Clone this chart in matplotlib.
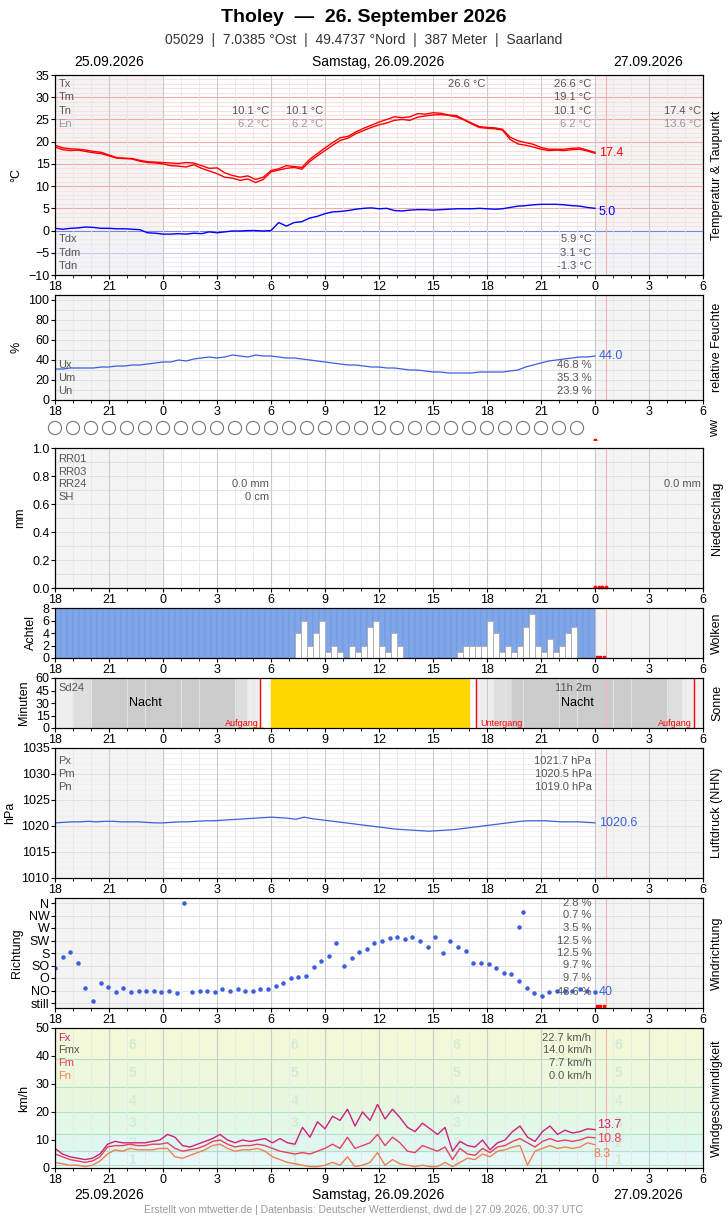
import matplotlib
matplotlib.use("Agg")
import matplotlib.pyplot as plt
import numpy as np

plt.rcParams['font.family'] = ['Liberation Sans', 'DejaVu Sans']

# ---------------- data ----------------
hours_labels = ['18', '21', '0', '3', '6', '9', '12', '15', '18', '21', '0', '3', '6']
# samples spread evenly from 18:00 (x=0) to 00:00 next day (x=30)
temp = [18.8, 18.2, 18.0, 18.1, 17.8, 17.5, 17.3, 16.8, 16.3, 16.2, 16.1, 15.6, 15.3, 15.2, 15.0, 14.6,
        14.5, 14.3, 14.8, 14.0, 13.4, 12.8, 12.0, 11.8, 11.3, 11.6, 10.8, 11.5, 13.2, 13.6, 14.0, 14.2,
        13.8, 15.5, 16.8, 18.0, 19.2, 20.3, 20.8, 21.8, 22.5, 23.2, 23.8, 24.2, 24.8, 25.0, 24.8, 25.5,
        25.8, 26.0, 26.1, 25.9, 25.6, 24.9, 24.0, 23.2, 23.0, 22.9, 22.6, 20.5, 19.5, 19.2, 18.8, 18.3,
        18.0, 18.1, 18.0, 18.2, 18.3, 17.9, 17.4]
temp_hi = [19.2, 18.6, 18.4, 18.3, 18.1, 17.8, 17.6, 17.0, 16.4, 16.3, 16.2, 15.8, 15.5, 15.4, 15.3, 15.2,
           15.1, 15.3, 15.2, 14.6, 14.0, 14.1, 13.0, 12.4, 12.0, 12.3, 11.5, 12.0, 13.5, 13.9, 14.6, 14.4,
           14.2, 16.0, 17.3, 18.6, 19.8, 20.9, 21.2, 22.2, 23.0, 23.7, 24.4, 25.0, 25.6, 25.4, 25.6, 26.3,
           26.2, 26.5, 26.4, 26.0, 25.9, 25.0, 24.2, 23.4, 23.2, 23.1, 22.8, 21.0, 20.2, 19.8, 19.4, 18.7,
           18.3, 18.3, 18.3, 18.5, 18.6, 18.1, 17.6]
dewp = [0.5, 0.3, 0.5, 0.6, 0.8, 0.7, 0.5, 0.5, 0.4, 0.4, 0.3, 0.2, -0.5, -0.6, -0.8, -0.8,
        -0.7, -0.8, -0.6, -0.7, -0.3, -0.5, -0.3, -0.1, -0.1, 0.0, 0.0, -0.1, 0.0, 1.8, 1.0, 1.8,
        2.0, 2.8, 3.2, 3.8, 4.2, 4.3, 4.5, 4.8, 5.0, 5.1, 4.9, 5.0, 4.5, 4.4, 4.6, 4.7,
        4.7, 4.6, 4.7, 4.8, 4.9, 4.9, 4.9, 5.0, 4.9, 4.8, 4.9, 5.2, 5.5, 5.6, 5.8, 5.9,
        5.9, 5.9, 5.8, 5.6, 5.5, 5.2, 5.0]
humid = [31, 31, 32, 32, 32, 32, 33, 33, 34, 34, 35, 35, 36, 37, 38, 38,
         40, 39, 41, 42, 43, 42, 43, 45, 44, 43, 45, 44, 44, 43, 42, 42,
         41, 40, 39, 38, 37, 36, 35, 35, 34, 33, 33, 32, 32, 31, 30, 30,
         29, 28, 28, 27, 27, 27, 27, 28, 28, 28, 28, 29, 30, 33, 35, 37,
         39, 40, 41, 42, 43, 43, 44]
press = [1020.6, 1020.7, 1020.8, 1020.8, 1020.9, 1020.8, 1020.9, 1020.9, 1020.8, 1020.8, 1020.8, 1020.7,
         1020.6, 1020.6, 1020.7, 1020.8, 1020.8, 1020.9, 1021.0, 1021.0, 1021.1, 1021.2, 1021.3, 1021.4,
         1021.5, 1021.6, 1021.7, 1021.6, 1021.5, 1021.3, 1021.7, 1021.4, 1021.2, 1021.0, 1020.8, 1020.6,
         1020.4, 1020.2, 1020.0, 1019.8, 1019.6, 1019.4, 1019.3, 1019.2, 1019.1, 1019.0, 1019.1, 1019.2,
         1019.3, 1019.5, 1019.7, 1019.9, 1020.1, 1020.3, 1020.5, 1020.7, 1020.9, 1021.0, 1021.0, 1021.0,
         1020.9, 1020.8, 1020.8, 1020.8, 1020.7, 1020.6]
# cloud cover (eighths), 20-minute steps from 18:00 to 00:00 (90 values); blue = 8 everywhere
clouds_white = [0, 0, 0, 0, 0, 0, 0, 0, 0, 0, 0, 0, 0, 0, 0, 0, 0, 0, 0, 0,
                0, 0, 0, 0, 0, 0, 0, 0, 0, 0, 0, 0, 0, 0, 0, 0, 0, 0, 0, 0,
                4, 6, 2, 4, 6, 1, 2, 1, 0, 2, 1, 2, 5, 6, 2, 1, 4, 2, 0, 0,
                0, 0, 0, 0, 0, 0, 0, 1, 2, 2, 2, 2, 6, 4, 1, 2, 1, 2, 5, 7,
                2, 1, 3, 1, 2, 4, 5, 0, 0, 0]
# wind direction (0=still .. 8=N)
wdir = [2.8, 3.7, 4.1, 3.2, 1.2, 0.2, 1.6, 1.3, 0.9, 1.2, 0.9, 1.0, 1.0, 1.0, 0.9, 1.0,
        0.8, 8.0, 0.9, 1.0, 1.0, 0.9, 1.1, 1.0, 1.1, 1.0, 1.0, 1.1, 1.1, 1.4, 1.6, 2.0,
        2.1, 2.2, 2.9, 3.4, 3.8, 4.8, 3.0, 3.6, 4.1, 4.3, 4.8, 5.0, 5.2, 5.3, 5.1, 5.3,
        5.0, 4.5, 5.3, 4.0, 5.0, 4.5, 4.2, 3.2, 3.2, 3.1, 2.8, 2.4, 2.3, 1.8, 1.2, 0.8,
        0.6, 0.9, 1.0, 1.0, 1.0, 1.1, 1.0, 0.9]
wdir_extra_x = [25.8, 26.0]
wdir_extra_y = [6.1, 7.3]
fx = [7.0, 5.0, 4.0, 3.5, 3.0, 3.5, 5.0, 8.5, 9.5, 9.0, 9.0, 9.0, 9.0, 9.5, 10.0, 12.0,
      11.0, 8.0, 7.5, 8.5, 9.5, 10.5, 12.0, 10.0, 9.0, 10.0, 9.5, 10.0, 10.5, 9.0, 10.5, 9.0,
      8.5, 14.5, 11.0, 16.5, 14.0, 18.5, 17.0, 21.0, 15.0, 20.0, 17.0, 22.7, 17.5, 21.0, 18.0, 14.5,
      13.0, 16.0, 14.0, 12.0, 14.5, 6.0, 9.5, 8.0, 7.5, 10.0, 6.5, 9.0, 10.0, 13.0, 15.0, 11.0,
      9.5, 13.0, 15.0, 12.0, 13.5, 12.5, 13.0, 14.0, 13.7]
fm = [5.0, 4.0, 3.0, 2.5, 2.0, 2.5, 4.0, 7.5, 8.0, 8.0, 8.5, 8.0, 8.0, 8.5, 8.5, 9.0,
      7.0, 6.0, 6.5, 7.0, 8.0, 9.5, 10.0, 8.5, 7.5, 8.0, 8.0, 8.5, 8.0, 7.0, 6.0, 5.5,
      5.0, 5.5, 5.0, 6.0, 7.0, 8.5, 7.0, 11.0, 7.0, 8.0, 9.0, 12.0, 8.0, 11.0, 9.0, 6.0,
      5.5, 8.0, 7.0, 6.0, 7.5, 3.0, 7.0, 5.0, 4.5, 7.0, 5.5, 7.5, 8.0, 9.5, 10.5, 9.0,
      7.5, 9.5, 10.5, 9.5, 10.0, 9.5, 10.0, 11.0, 10.8]
fn = [2.0, 1.5, 1.0, 1.0, 0.5, 1.0, 2.5, 5.0, 6.5, 6.0, 7.0, 6.5, 6.5, 6.5, 7.0, 7.0,
      4.0, 3.5, 4.5, 5.5, 6.5, 8.0, 8.5, 7.0, 6.0, 6.5, 6.5, 7.0, 6.0, 4.0, 3.0, 2.0,
      1.5, 1.0, 0.5, 0.5, 1.0, 2.0, 1.0, 4.0, 0.5, 1.0, 2.0, 5.5, 1.0, 3.0, 1.5, 1.0,
      0.5, 1.0, 0.5, 0.5, 2.0, 0.5, 2.0, 3.5, 3.0, 5.0, 4.0, 6.0, 6.5, 7.5, 8.0, 1.0,
      6.0, 7.0, 8.0, 7.0, 7.5, 7.0, 7.5, 9.0, 8.3]
dir_labels = ['still', 'NO', 'O', 'SO', 'S', 'SW', 'W', 'NW', 'N']
dir_pct = ['48.6 %', '9.7 %', '9.7 %', '12.5 %', '12.5 %', '3.5 %', '0.7 %', '2.8 %']

# ---------------- helpers ----------------
W, H = 728, 1218
fig = plt.figure(figsize=(W/100, H/100), dpi=100)
L, R = 55, 703
NOW = 30.6
GRAY = '#555555'

def xs(series):
    return np.linspace(0, 30, len(series))

def mkax(top, bot):
    ax = fig.add_axes([L/W, 1-bot/H, (R-L)/W, (bot-top)/H])
    ax.set_xlim(0, 36)
    ax.axvspan(0, 6, color='#f4f4f4', zorder=0)
    ax.axvspan(30, 36, color='#f4f4f4', zorder=0)
    for h in range(37):
        ax.axvline(h, color='#cccccc' if h % 3 == 0 else '#e8e8e8', lw=0.8 if h % 3 == 0 else 0.6, zorder=0.5)
    ax.axvline(NOW, color='#ffb0b0', lw=0.8, zorder=0.6)
    ax.set_xticks(range(0, 37, 3))
    ax.set_xticklabels(hours_labels)
    ax.set_xticks(range(37), minor=True)
    ax.tick_params(labelsize=9, length=3, pad=1)
    ax.tick_params(which='minor', length=2)
    return ax

def side(ax, txt):
    ax2 = ax.twinx()
    ax2.set_yticks([])
    ax2.set_ylabel(txt, fontsize=9, labelpad=6, rotation=90)

kw = dict(fontsize=8, color=GRAY)

# header
fig.text(364/W, 1-18/H, 'Tholey  —  26. September 2026', ha='center', va='center', fontsize=14, weight='bold')
fig.text(364/W, 1-40/H, '05029  |  7.0385 °Ost  |  49.4737 °Nord  |  387 Meter  |  Saarland', ha='center', va='center', fontsize=10, color='#333333')
for yy in (62, 1195):
    fig.text(109/W, 1-yy/H, '25.09.2026', ha='center', va='center', fontsize=10)
    fig.text(378/W, 1-yy/H, 'Samstag, 26.09.2026', ha='center', va='center', fontsize=10)
    fig.text(648/W, 1-yy/H, '27.09.2026', ha='center', va='center', fontsize=10)
fig.text(364/W, 1-1210/H, 'Erstellt von mtwetter.de | Datenbasis: Deutscher Wetterdienst, dwd.de | 27.09.2026, 00:37 UTC',
         ha='center', va='center', fontsize=7.5, color='#999999')

# ---- temperature ----
ax = mkax(75, 275)
ax.set_ylim(-10, 35)
ax.set_yticks(range(-10, 36, 5))
for v in range(-10, 36):
    if v < 0:
        c = '#c8c8f4' if v % 5 == 0 else '#ececfa'
    elif v == 0:
        c = '#8080e0'
    else:
        c = '#f4a8a8' if v % 5 == 0 else '#fae0e0'
    ax.axhline(v, color=c, lw=0.8, zorder=0.4)
ax.plot(xs(temp), temp, color='red', lw=1)
ax.plot(xs(temp_hi), temp_hi, color='red', lw=1)
ax.plot(xs(dewp), dewp, color='blue', lw=1)
ax.text(30.2, temp[-1], '17.4', color='red', fontsize=9, va='center')
ax.text(30.2, dewp[-1]-0.8, '5.0', color='blue', fontsize=9, va='center')
for lab, yy in zip(['Tx', 'Tm', 'Tn', 'En'], [33, 30, 27, 24]):
    ax.text(0.2, yy, lab, va='center', fontsize=8, color=GRAY if lab != 'En' else '#999999')
for lab, yy in zip(['Tdx', 'Tdm', 'Tdn'], [-2, -5, -8]):
    ax.text(0.2, yy, lab, va='center', **kw)
ax.text(23.9, 33, '26.6 °C', ha='right', va='center', **kw)
for xx, vals in [(29.8, ['26.6 °C', '19.1 °C', '10.1 °C', '6.2 °C']), (11.9, [None, None, '10.1 °C', '6.2 °C']),
                 (14.9, [None, None, '10.1 °C', '6.2 °C']), (35.9, [None, None, '17.4 °C', '13.6 °C'])]:
    for v, yy in zip(vals, [33, 30, 27, 24]):
        if v:
            ax.text(xx, yy, v, ha='right', va='center', fontsize=8, color=GRAY if yy != 24 else '#999999')
for v, yy in zip(['5.9 °C', '3.1 °C', '-1.3 °C'], [-2, -5, -8]):
    ax.text(29.8, yy, v, ha='right', va='center', **kw)
ax.set_ylabel('°C', fontsize=9)
side(ax, 'Temperatur & Taupunkt')

# ---- humidity ----
ax = mkax(295, 400)
ax.set_ylim(0, 105)
ax.set_yticks(range(0, 101, 20))
for v in range(0, 101, 10):
    ax.axhline(v, color='#dddddd', lw=0.6, zorder=0.4)
ax.plot(xs(humid), humid, color='#3a5fe0', lw=0.9)
ax.text(30.2, 44, '44.0', color='#3a5fe0', fontsize=9, va='center')
for lab, v, yy in zip(['Ux', 'Um', 'Un'], ['46.8 %', '35.3 %', '23.9 %'], [35, 22, 9]):
    ax.text(0.2, yy, lab, va='center', **kw)
    ax.text(29.8, yy, v, ha='right', va='center', **kw)
ax.set_ylabel('%', fontsize=9)
side(ax, 'relative Feuchte')

# ---- ww circles ----
axw = fig.add_axes([L/W, 1-440/H, (R-L)/W, 24/H])
axw.set_xlim(0, 36); axw.set_ylim(0, 1); axw.axis('off')
axw.scatter(np.arange(30), [0.5]*30, s=90, facecolors='none', edgecolors='#777777', lw=0.8, clip_on=False)
axw.scatter([30.0], [0.0], s=3, color='red')
fig.text(715/W, 1-428/H, 'ww', rotation=90, ha='center', va='center', fontsize=9)

# ---- precipitation ----
ax = mkax(448, 588)
ax.set_ylim(0, 1)
ax.set_yticks(np.arange(0, 1.01, 0.2))
ax.set_yticklabels(['0.0', '0.2', '0.4', '0.6', '0.8', '1.0'])
for v in np.arange(0, 1.01, 0.1):
    ax.axhline(v, color='#dddddd', lw=0.6, zorder=0.4)
ax.scatter([30.0, 30.2, 30.4, 30.6], [0.01]*4, s=3, color='red', clip_on=False, zorder=5)
for lab, yy in zip(['RR01', 'RR03', 'RR24', 'SH'], [0.92, 0.83, 0.74, 0.65]):
    ax.text(0.2, yy, lab, va='center', **kw)
ax.text(11.9, 0.74, '0.0 mm', ha='right', va='center', **kw)
ax.text(11.9, 0.65, '0 cm', ha='right', va='center', **kw)
ax.text(35.9, 0.74, '0.0 mm', ha='right', va='center', **kw)
ax.set_ylabel('mm', fontsize=9)
side(ax, 'Niederschlag')

# ---- clouds ----
ax = mkax(608, 658)
ax.set_ylim(0, 8)
ax.set_yticks(range(0, 9, 2))
xc = np.arange(len(clouds_white)) / 3.0
ax.bar(xc, [8]*len(xc), width=1/3, align='edge', color='#7fa6e8', edgecolor='#6a90d8', lw=0.3, zorder=1)
ax.bar(xc, clouds_white, width=1/3, align='edge', color='white', edgecolor='#aaaaaa', lw=0.6, zorder=2)
ax.scatter([30.1, 30.3, 30.5], [0.15]*3, s=3, marker='s', color='red', zorder=5)
ax.set_ylabel('Achtel', fontsize=9)
side(ax, 'Wolken')

# ---- sun ----
ax = mkax(678, 728)
ax.set_ylim(0, 60)
ax.set_yticks(range(0, 61, 15))
for a, b, c in [(0, 11.4, '#eeeeee'), (1, 10.6, '#dedede'), (2, 10.0, '#cccccc'),
                (23.4, 35.5, '#eeeeee'), (24.4, 34.8, '#dedede'), (25.4, 34.0, '#cccccc')]:
    ax.axvspan(a, b, color=c, zorder=0.3)
ax.axvspan(12, 23, color='#ffd700', zorder=1)
ax.bar([11.2], [1.5], width=0.8, color='#ffd700', zorder=1)
for xx in (11.4, 23.4, 35.5):
    ax.axvline(xx, color='red', lw=1, zorder=2)
ax.text(5.0, 30, 'Nacht', ha='center', va='center', fontsize=9)
ax.text(29.0, 30, 'Nacht', ha='center', va='center', fontsize=9)
ax.text(0.2, 48, 'Sd24', va='center', **kw)
ax.text(29.8, 48, '11h 2m', ha='right', va='center', **kw)
ax.text(11.3, 5, 'Aufgang', ha='right', va='center', fontsize=6.5, color='red')
ax.text(23.6, 5, 'Untergang', ha='left', va='center', fontsize=6.5, color='red')
ax.text(35.4, 5, 'Aufgang', ha='right', va='center', fontsize=6.5, color='red')
ax.set_ylabel('Minuten', fontsize=9)
side(ax, 'Sonne')

# ---- pressure ----
ax = mkax(748, 878)
ax.set_ylim(1010, 1035)
ax.set_yticks(range(1010, 1036, 5))
for v in range(1010, 1036):
    ax.axhline(v, color='#dddddd' if v % 5 == 0 else '#f0f0f0', lw=0.6, zorder=0.4)
ax.plot(xs(press), press, color='#3a5fe0', lw=0.9)
ax.text(30.2, 1020.6, '1020.6', color='#3a5fe0', fontsize=9, va='center')
for lab, v, yy in zip(['Px', 'Pm', 'Pn'], ['1021.7 hPa', '1020.5 hPa', '1019.0 hPa'], [1032.5, 1030, 1027.5]):
    ax.text(0.2, yy, lab, va='center', **kw)
    ax.text(29.8, yy, v, ha='right', va='center', **kw)
ax.set_ylabel('hPa', fontsize=9)
side(ax, 'Luftdruck (NHN)')

# ---- wind direction ----
ax = mkax(898, 1008)
ax.set_ylim(-0.4, 8.4)
ax.set_yticks(range(9))
ax.set_yticklabels(dir_labels, fontsize=9)
for v in range(9):
    ax.axhline(v, color='#dddddd', lw=0.6, zorder=0.4)
ax.scatter(xs(wdir), wdir, s=5, color='#3a5fe0', zorder=3)
ax.scatter(wdir_extra_x, wdir_extra_y, s=5, color='#3a5fe0', zorder=3)
for i, p in enumerate(dir_pct):
    ax.text(29.8, 1 + i if i > 0 else 0.9, p, ha='right', va='center', fontsize=8, color=GRAY)
ax.text(30.2, 0.9, '40', color='#3a5fe0', fontsize=9, va='center')
ax.scatter([30.1, 30.3, 30.5], [-0.2]*3, s=3, marker='s', color='red', zorder=5)
ax.set_ylabel('Richtung', fontsize=9)
side(ax, 'Windrichtung')

# ---- wind speed ----
ax = mkax(1028, 1168)
ax.set_ylim(0, 50)
ax.set_yticks(range(0, 51, 10))
bands = [(0, 1, '#f0fafa'), (1, 6, '#e6f8f8'), (6, 12, '#e0f6f0'), (12, 20, '#e4f8e8'),
         (20, 29, '#e8f8e0'), (29, 39, '#eef8dc'), (39, 50, '#f2f8d8')]
for a, b, c in bands:
    ax.axhspan(a, b, color=c, zorder=0.1)
for v in (1, 6, 12, 20, 29, 39):
    ax.axhline(v, color='#b0e0c8', lw=0.8, zorder=0.4)
for xx in (4.3, 13.3, 22.3, 31.3):
    for bf, yy in zip(range(1, 7), [3, 9, 16, 24, 34, 44]):
        ax.text(xx, yy, str(bf), ha='center', va='center', fontsize=10, color='#d4ecd4', weight='bold', zorder=0.5)
ax.plot(xs(fx), fx, color='#d0207a', lw=1)
ax.plot(xs(fm), fm, color='#e84060', lw=1)
ax.plot(xs(fn), fn, color='#f08050', lw=1)
ax.text(30.1, 15.5, '13.7', color='#d0207a', fontsize=9, va='center')
ax.text(30.1, 10.2, '10.8', color='#e84060', fontsize=9, va='center')
ax.text(29.9, 5.0, '8.3', color='#f08050', fontsize=9, va='center')
for lab, c, v, yy in zip(['Fx', 'Fmx', 'Fm', 'Fn'], ['#d0207a', GRAY, '#e84060', '#f08050'],
                         ['22.7 km/h', '14.0 km/h', '7.7 km/h', '0.0 km/h'], [46.5, 42, 37.5, 33]):
    ax.text(0.2, yy, lab, va='center', fontsize=8, color=c)
    ax.text(29.8, yy, v, ha='right', va='center', **kw)
ax.set_ylabel('km/h', fontsize=9)
side(ax, 'Windgeschwindigkeit')

fig.savefig('out.png', dpi=100)
